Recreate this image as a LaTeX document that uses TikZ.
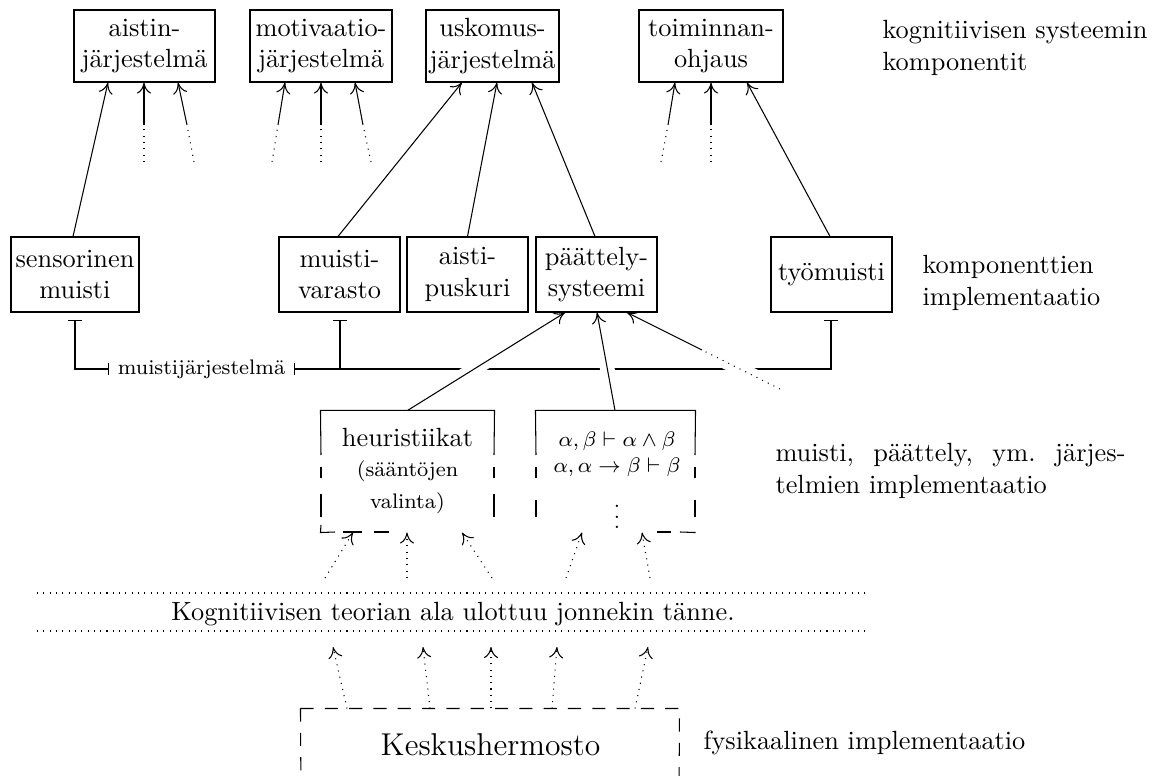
\documentclass[tikz,border=0pt]{standalone}
\usetikzlibrary{calc,arrows.meta}
\begin{document}
\begin{tikzpicture}[x=0.38pt, y=-0.38pt,
  >={To[length=4.2pt,width=5.4pt]},
  every node/.style={inner sep=0pt},
  boxsize/.style 2 args={minimum width=#1*0.38pt, minimum height=#2*0.38pt},
  compbox/.style={draw, rectangle, align=center, inner sep=0pt},
  freebox/.style={rectangle, inner sep=0pt},
  dotarr/.style={->, dotted},
  halo/.style={preaction={draw=white, solid, -, line width=5.5pt, shorten <=8pt, shorten >=8pt}},
  sidetext/.style={align=left, anchor=north west},
  kdash/.style={dash pattern=on 5pt off 4.24pt},
]
\useasboundingbox (0,0) rectangle (1153,776);

% --- components of the cognitive system
\node[compbox, boxsize={141}{72}] (aistin)  at (144.5,46) {aistin-\\järjestelmä};
\node[compbox, boxsize={142}{72}] (motiv)   at (321,46)   {motivaatio-\\järjestelmä};
\node[compbox, boxsize={133}{72}] (uskomus) at (492.5,46) {uskomus-\\järjestelmä};
\node[compbox, boxsize={144}{72}] (toim)    at (711,46)   {toiminnan-\\ohjaus};

% --- implementations of the components
\node[compbox, boxsize={128}{75}] (sens)  at (75,274.5)    {sensorinen\\muisti};
\node[compbox, boxsize={121}{75}] (mvar)  at (339.5,274.5) {muisti-\\varasto};
\node[compbox, boxsize={121}{75}] (apusk) at (467.5,274.5) {aisti-\\puskuri};
\node[compbox, boxsize={121}{75}] (paat)  at (596.5,274.5) {päättely-\\systeemi};
\node[compbox, boxsize={121}{75}] (tyom)  at (831.5,274.5) {työmuisti};

% --- lower level boxes (outlines drawn below)
\node[freebox, boxsize={173}{121}] (heur)  at (407.5,471.5) {};
\node[freebox, boxsize={159}{121}] (rules) at (615.5,471.5) {};
\node[freebox, boxsize={378}{120}] (kesk)  at (490,769)     {};

\node[anchor=base] (heurA) at (407.5,447) {heuristiikat};
\node[anchor=base, font=\footnotesize] (heurB) at (407.5,477) {(sääntöjen};
\node[anchor=base, font=\footnotesize] (heurC) at (407.5,508) {valinta)};
\node[anchor=base, font=\footnotesize] (ruleA) at (617,447) {$\alpha,\beta\vdash\alpha\wedge\beta$};
\node[anchor=base, font=\footnotesize] (ruleB) at (617,473) {$\alpha,\alpha\rightarrow\beta\vdash\beta$};
\node[font=\footnotesize] (ruleC) at (617,509) {$\vdots$};
\node[anchor=base, font=\large] (kesktext) at (490.5,755) {Keskushermosto};

% --- level captions on the right
\node[sidetext] (lvlA) at (882,20)  {kognitiivisen systeemin\\komponentit};
\node[sidetext] (lvlB) at (922,255) {komponenttien\\implementaatio};
\node[anchor=north west, text width=133pt, align=justify, font=\frenchspacing] (lvlC) at (775,443)
  {muisti, päättely, ym. järjes-\linebreak telmien implementaatio};
\node[anchor=base west] (lvlD) at (703,749) {fysikaalinen implementaatio};

% --- band of cognitive theory
\node[anchor=base] (teoria) at (453,621) {Kognitiivisen teorian ala ulottuu jonnekin tänne.};
\coordinate (bandNW) at (37,593);  \coordinate (bandNE) at (870,593);
\coordinate (bandSW) at (37,631);  \coordinate (bandSE) at (870,631);
\draw[dotted] (bandNW) -- (bandNE);
\draw[dotted] (bandSW) -- (bandSE);

% --- outlines of the half-dashed boxes
\draw (321,455) -- (heur.north west) -- (heur.north east) -- (494,455);
\foreach \ya/\yb in {467/478, 494/517} {
  \draw (321,\ya) -- (321,\yb);
  \draw (494,\ya) -- (494,\yb);
}
\draw (321,525) -- (heur.south west) -- (335,532);
\draw (343,532) -- (362,532);
\draw (374,532) -- (389,532);

\draw (536,455) -- (rules.north west) -- (rules.north east) -- (695,455);
\foreach \ya/\yb in {467/478, 500/517} {
  \draw (536,\ya) -- (536,\yb);
  \draw (695,\ya) -- (695,\yb);
}
\draw (657,532) -- (671,532);
\draw (680,532) -- (rules.south east);

\draw[kdash] (kesk.north west) -- (301,800);
\draw[kdash] (kesk.north west) -- (kesk.north east) -- (679,800);

% --- memory system bracket
\node[font=\footnotesize, inner xsep=3pt, inner ysep=1pt] (mj) at (201.5,369) {muistijärjestelmä};
\coordinate (sensT) at ($(sens.south)+(0,7)$);
\coordinate (mvarT) at ($(mvar.south)+(0.5,7)$);
\coordinate (tyomT) at ($(tyom.south)+(-0.5,7)$);
\draw[{Bar[width=5.3pt]}-{Bar[width=4.5pt]}] (sensT) |- (mj.west);
\draw[{Bar[width=4.5pt]}-{Bar[width=5.3pt]}] (mj.east) -| (tyomT);
\draw[{Bar[width=5.3pt]}-] (mvarT) -- (mvarT |- mj.east);

% --- into the top row
\draw[->] ($(sens.north)+(-2,0)$) -- ($(aistin.south)+(-36.5,0)$);
\coordinate (ai2) at (144,125); \coordinate (ai2f) at (144,162);
\coordinate (ai3) at (187,125); \coordinate (ai3f) at (194,162);
\draw[dotted] (ai2f) -- (ai2); \draw[->] (ai2) -- (ai2 |- aistin.south);
\draw[dotted] (ai3f) -- (ai3); \draw[->] (ai3) -- ($(aistin.south)+(33.5,0)$);

\coordinate (mo1) at (278,125); \coordinate (mo1f) at (272,162);
\coordinate (mo2) at (321,125); \coordinate (mo2f) at (321,162);
\coordinate (mo3) at (363,125); \coordinate (mo3f) at (371,162);
\draw[dotted] (mo1f) -- (mo1); \draw[->] (mo1) -- ($(motiv.south)+(-36,0)$);
\draw[dotted] (mo2f) -- (mo2); \draw[->] (mo2) -- (mo2 |- motiv.south);
\draw[dotted] (mo3f) -- (mo3); \draw[->] (mo3) -- ($(motiv.south)+(34,0)$);

\draw[->] ($(mvar.north)+(-1.5,0)$) -- ($(uskomus.south)+(-30.5,0)$);
\draw[->] (apusk.north) -- ($(uskomus.south)+(4.5,0)$);
\draw[->] ($(paat.north)+(-1.5,0)$) -- ($(uskomus.south)+(39.5,0)$);

\coordinate (to1) at (668,125); \coordinate (to1f) at (661,162);
\coordinate (to2) at (711,125); \coordinate (to2f) at (711,162);
\draw[dotted] (to1f) -- (to1); \draw[->] (to1) -- ($(toim.south)+(-36,0)$);
\draw[dotted] (to2f) -- (to2); \draw[->] (to2) -- (to2 |- toim.south);
\draw[->] ($(tyom.north)+(-1.5,0)$) -- ($(toim.south)+(36,0)$);

% --- into the reasoning system
\draw[->, halo] (heur.north) -- ($(paat.south)+(-31.5,0)$);
\draw[->, halo] ($(rules.north)+(-0.5,0)$) -- ($(paat.south)+(0.5,0)$);
\coordinate (pa3) at (702,350); \coordinate (pa3f) at (780,389);
\draw[dotted, halo] (pa3f) -- (pa3);
\draw[->] (pa3) -- ($(paat.south)+(30.5,0)$);

% --- from the theory band into the lower boxes
\coordinate (b1) at (325,578); \coordinate (b2) at (407,578);
\coordinate (b3) at (492,578); \coordinate (b4) at (566,578);
\coordinate (b5) at (650,578);
\draw[dotarr] (b1) -- ($(heur.south)+(-54.5,0)$);
\draw[dotarr] (b2) -- (b2 |- heur.south);
\draw[dotarr] (b3) -- ($(heur.south)+(54.5,0)$);
\draw[dotarr] (b4) -- ($(rules.south)+(-33.5,0)$);
\draw[dotarr] (b5) -- ($(rules.south)+(26.5,0)$);

% --- from the nervous system up to the band
\coordinate (k1) at (333,647); \coordinate (k2) at (423,647);
\coordinate (k3) at (491,647); \coordinate (k4) at (557,647);
\coordinate (k5) at (648,647);
\draw[dotarr] ($(kesk.north)+(-143,0)$) -- (k1);
\draw[dotarr] ($(kesk.north)+(-60,0)$) -- (k2);
\draw[dotarr] ($(kesk.north)+(1,0)$) -- (k3);
\draw[dotarr] ($(kesk.north)+(62,0)$) -- (k4);
\draw[dotarr] ($(kesk.north)+(145,0)$) -- (k5);
\end{tikzpicture}
\end{document}
